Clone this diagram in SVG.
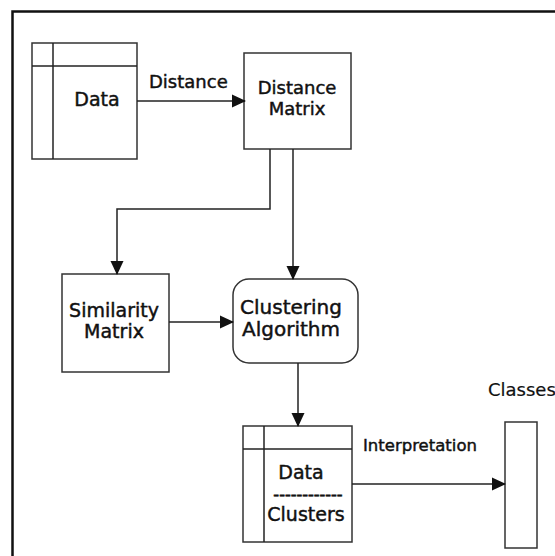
<svg xmlns="http://www.w3.org/2000/svg" width="555" height="556" viewBox="0 0 555 556">
<style>
.box{fill:#fff;stroke:#333;stroke-width:1.5}
.ln{fill:none;stroke:#222;stroke-width:1.5}
.lbl{font-family:"DejaVu Sans",sans-serif;fill:#111;stroke:#111;stroke-width:0.45;text-anchor:middle}
.edge{font-family:"DejaVu Sans",sans-serif;fill:#111;stroke:#111;stroke-width:0.45}
</style>
<defs>
<marker id="ah" markerUnits="userSpaceOnUse" markerWidth="14" markerHeight="14" refX="13" refY="7" orient="auto">
<path d="M0,0.5 L14,7 L0,13.5 Z" fill="#111"/>
</marker>
</defs>
<rect x="0" y="0" width="555" height="556" fill="#fff"/>
<path d="M12.5,560 V11.5 H560" fill="none" stroke="#111" stroke-width="2.5"/>
<g id="data">
<rect class="box" x="32" y="43" width="105" height="116"/>
<line class="ln" x1="53" y1="43" x2="53" y2="159"/>
<line class="ln" x1="32" y1="66" x2="137" y2="66"/>
<text class="lbl" x="97" y="106" font-size="19">Data</text>
</g>
<g id="distance-matrix">
<rect class="box" x="244" y="53" width="107" height="96"/>
<text class="lbl" x="297" y="94" font-size="18">Distance</text>
<text class="lbl" x="297" y="115" font-size="18">Matrix</text>
</g>
<g id="similarity-matrix">
<rect class="box" x="62" y="274" width="107" height="98"/>
<text class="lbl" x="114" y="317" font-size="19">Similarity</text>
<text class="lbl" x="114" y="338" font-size="19">Matrix</text>
</g>
<g id="clustering-algorithm">
<rect class="box" x="233" y="279" width="125" height="84" rx="16" ry="16"/>
<text class="lbl" x="291" y="314" font-size="20">Clustering</text>
<text class="lbl" x="291" y="336" font-size="20">Algorithm</text>
</g>
<g id="data-clusters">
<rect class="box" x="243" y="426" width="109" height="116"/>
<line class="ln" x1="264" y1="426" x2="264" y2="542"/>
<line class="ln" x1="243" y1="449" x2="352" y2="449"/>
<text class="lbl" x="301" y="479" font-size="19">Data</text>
<text class="lbl" x="308" y="500" font-size="16" style="stroke-width:0.7">------------</text>
<text class="lbl" x="306" y="521" font-size="19">Clusters</text>
</g>
<g id="classes">
<rect class="box" x="505" y="422" width="32" height="126"/>
<text x="488" y="396" font-family="DejaVu Sans, sans-serif" font-size="18" fill="#111" stroke="#111" stroke-width="0.2">Classes</text>
</g>
<g id="connectors">
<line class="ln" x1="137" y1="101" x2="245" y2="101" marker-end="url(#ah)"/>
<text class="edge" x="149" y="88" font-size="18">Distance</text>
<polyline class="ln" points="270,149 270,209 117,209 117,274" marker-end="url(#ah)"/>
<line class="ln" x1="293" y1="149" x2="293" y2="279" marker-end="url(#ah)"/>
<line class="ln" x1="169" y1="322" x2="233" y2="322" marker-end="url(#ah)"/>
<line class="ln" x1="298" y1="363" x2="298" y2="426" marker-end="url(#ah)"/>
<line class="ln" x1="352" y1="484" x2="505" y2="484" marker-end="url(#ah)"/>
<text class="edge" x="363" y="451" font-size="16.5">Interpretation</text>
</g>
</svg>
